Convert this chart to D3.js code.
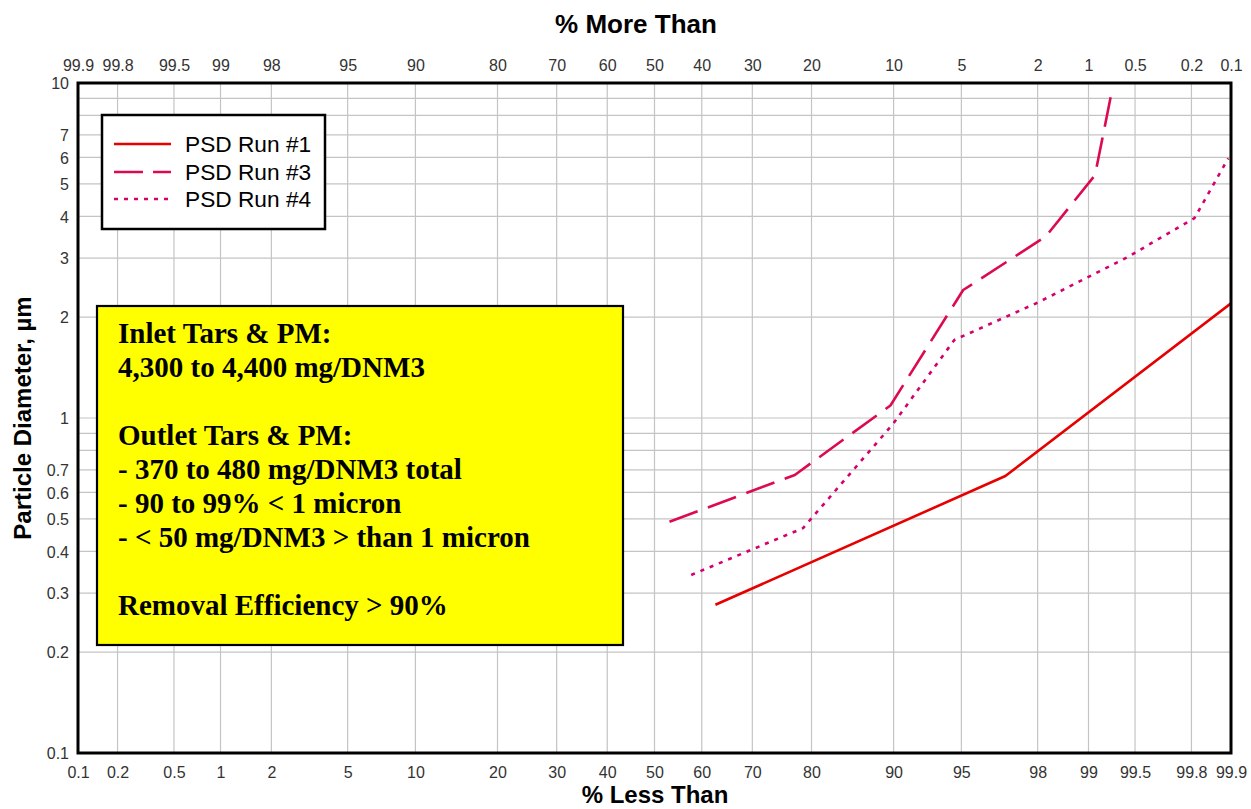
<!DOCTYPE html>
<html>
<head>
<meta charset="utf-8">
<script src="https://cdnjs.cloudflare.com/ajax/libs/d3/7.8.5/d3.min.js"></script>
<style>
html,body{margin:0;padding:0;background:#fff;}
svg{display:block;}
</style>
</head>
<body>
<svg id="chart" width="1251" height="809"></svg>
<script>
// ---------- data ----------
const pctTicks = [0.1, 0.2, 0.5, 1, 2, 5, 10, 20, 30, 40, 50, 60, 70, 80, 90, 95, 98, 99, 99.5, 99.8, 99.9];
const bottomLabels = ["0.1","0.2","0.5","1","2","5","10","20","30","40","50","60","70","80","90","95","98","99","99.5","99.8","99.9"];
const topLabels = ["99.9","99.8","99.5","99","98","95","90","80","70","60","50","40","30","20","10","5","2","1","0.5","0.2","0.1"];
const yLabelValues = [0.1, 0.2, 0.3, 0.4, 0.5, 0.6, 0.7, 1, 2, 3, 4, 5, 6, 7, 10];
const yLabels = ["0.1","0.2","0.3","0.4","0.5","0.6","0.7","1","2","3","4","5","6","7","10"];

const run1Pct = [62.8, 97.0, 99.9];
const run1Dia = [0.277, 0.671, 2.2];
const run3Pct = [53.2, 77.4, 89.7, 95.1, 98.2, 99.09, 99.29];
const run3Dia = [0.49, 0.676, 1.09, 2.41, 3.48, 5.31, 9.5];
const run4Pct = [57.8, 78.7, 89.95, 94.6, 98.0, 99.43, 99.81, 99.895];
const run4Dia = [0.34, 0.469, 0.96, 1.71, 2.21, 3.01, 3.95, 5.96];

const seriesNames = ["PSD Run #1", "PSD Run #3", "PSD Run #4"];
const seriesColors = ["#e60000", "#dc0a50", "#d4006e"];
const seriesDash = [null, "30,11", "4,6"];

const notes = [
  "Inlet Tars & PM:",
  "4,300 to 4,400 mg/DNM3",
  "",
  "Outlet Tars & PM:",
  "- 370 to 480 mg/DNM3 total",
  "- 90 to 99% < 1 micron",
  "- < 50 mg/DNM3 > than 1 micron",
  "",
  "Removal Efficiency > 90%"
];

// ---------- helpers ----------
function probit(p) {
  // Acklam's inverse normal CDF
  const a = [-3.969683028665376e+01, 2.209460984245205e+02, -2.759285104469687e+02, 1.383577518672690e+02, -3.066479806614716e+01, 2.506628277459239e+00];
  const b = [-5.447609879822406e+01, 1.615858368580409e+02, -1.556989798598866e+02, 6.680131188771972e+01, -1.328068155288572e+01];
  const c = [-7.784894002430293e-03, -3.223964580411365e-01, -2.400758277161838e+00, -2.549732539343734e+00, 4.374664141464968e+00, 2.938163982698783e+00];
  const d = [7.784695709041462e-03, 3.224671290700398e-01, 2.445134137142996e+00, 3.754408661907416e+00];
  const pl = 0.02425, ph = 1 - pl;
  let q, r;
  if (p < pl) {
    q = Math.sqrt(-2 * Math.log(p));
    return (((((c[0]*q+c[1])*q+c[2])*q+c[3])*q+c[4])*q+c[5]) / ((((d[0]*q+d[1])*q+d[2])*q+d[3])*q+1);
  } else if (p <= ph) {
    q = p - 0.5; r = q*q;
    return (((((a[0]*r+a[1])*r+a[2])*r+a[3])*r+a[4])*r+a[5])*q / (((((b[0]*r+b[1])*r+b[2])*r+b[3])*r+b[4])*r+1);
  } else {
    q = Math.sqrt(-2 * Math.log(1 - p));
    return -(((((c[0]*q+c[1])*q+c[2])*q+c[3])*q+c[4])*q+c[5]) / ((((d[0]*q+d[1])*q+d[2])*q+d[3])*q+1);
  }
}

// ---------- layout ----------
const L = 78, R = 1231, T = 83, B = 753;
const svg = d3.select("#chart");

const xz = d3.scaleLinear().domain([probit(0.001), probit(0.999)]).range([L, R]);
const x = p => xz(probit(p / 100));
const y = d3.scaleLog().domain([0.1, 10]).range([B, T]);

// ---------- grid ----------
const grid = svg.append("g");
const yGrid = [];
[0.1, 1].forEach(dec => { for (let k = 1; k <= 9; k++) yGrid.push(+(k * dec).toFixed(2)); });
yGrid.push(10);
grid.selectAll("line.h").data(yGrid).enter().append("line")
  .attr("x1", L).attr("x2", R)
  .attr("y1", d => y(d)).attr("y2", d => y(d))
  .attr("stroke", "#c4c4c4").attr("stroke-width", 1.2);
grid.selectAll("line.v").data(pctTicks).enter().append("line")
  .attr("x1", d => x(d)).attr("x2", d => x(d))
  .attr("y1", T).attr("y2", B)
  .attr("stroke", "#c4c4c4").attr("stroke-width", 1.2);

// ---------- axes (labels only) ----------
const tickFont = "'Liberation Sans', Arial, sans-serif";
const zTicks = pctTicks.map(p => probit(p / 100));

const bottomAxis = d3.axisBottom(xz).tickValues(zTicks).tickSize(0).tickPadding(0)
  .tickFormat((d, i) => bottomLabels[i]);
const gB = svg.append("g").attr("transform", `translate(0,${B + 14})`).call(bottomAxis);
const topAxis = d3.axisTop(xz).tickValues(zTicks).tickSize(0).tickPadding(0)
  .tickFormat((d, i) => topLabels[i]);
const gT = svg.append("g").attr("transform", `translate(0,${T - 12})`).call(topAxis);
const leftAxis = d3.axisLeft(y).tickValues(yLabelValues).tickSize(0).tickPadding(0)
  .tickFormat((d, i) => yLabels[i]);
const gL = svg.append("g").attr("transform", `translate(${L - 9},0)`).call(leftAxis);

[gB, gT, gL].forEach(g => {
  g.select(".domain").remove();
  g.selectAll("text").attr("font-family", tickFont).attr("font-size", 16).attr("fill", "#333");
});
gB.selectAll("text").attr("dy", "0.71em");
gT.selectAll("text").attr("dy", "0");
gL.selectAll("text").attr("dy", "0.36em");

// ---------- series ----------
const line = d3.line().x(d => x(d[0])).y(d => y(d[1]));
const series = [
  d3.zip(run1Pct, run1Dia),
  d3.zip(run3Pct, run3Dia),
  d3.zip(run4Pct, run4Dia)
];
svg.append("clipPath").attr("id", "plotclip").append("rect")
  .attr("x", L).attr("y", T).attr("width", R - L).attr("height", B - T);
series.forEach((s, i) => {
  svg.append("path").datum(s)
    .attr("d", line)
    .attr("fill", "none")
    .attr("stroke", seriesColors[i])
    .attr("stroke-width", 2.6)
    .attr("stroke-dasharray", seriesDash[i])
    .attr("stroke-linejoin", "round")
    .attr("clip-path", "url(#plotclip)");
});

// ---------- plot border ----------
svg.append("rect").attr("x", L).attr("y", T).attr("width", R - L).attr("height", B - T)
  .attr("fill", "none").attr("stroke", "#000").attr("stroke-width", 3);

// ---------- titles ----------
const titleFont = "'Liberation Sans', Arial, sans-serif";
svg.append("text").attr("x", 636).attr("y", 33).attr("text-anchor", "middle")
  .attr("font-family", titleFont).attr("font-weight", "bold").attr("font-size", 26)
  .text("% More Than");
svg.append("text").attr("x", 655).attr("y", 803).attr("text-anchor", "middle")
  .attr("font-family", titleFont).attr("font-weight", "bold").attr("font-size", 24)
  .text("% Less Than");
svg.append("text").attr("transform", "translate(31,418) rotate(-90)").attr("text-anchor", "middle")
  .attr("font-family", titleFont).attr("font-weight", "bold").attr("font-size", 24)
  .text("Particle Diameter, µm");

// ---------- legend ----------
const lg = svg.append("g");
lg.append("rect").attr("x", 102).attr("y", 115).attr("width", 223).attr("height", 114)
  .attr("fill", "#fff").attr("stroke", "#000").attr("stroke-width", 2.5);
const rowY = [144, 172, 199];
seriesNames.forEach((n, i) => {
  lg.append("line").attr("x1", 114).attr("x2", 171).attr("y1", rowY[i]).attr("y2", rowY[i])
    .attr("stroke", seriesColors[i]).attr("stroke-width", 2.6)
    .attr("stroke-dasharray", i === 1 ? "29,10" : seriesDash[i]);
  lg.append("text").attr("x", 185).attr("y", rowY[i] + 8)
    .attr("font-family", titleFont).attr("font-size", 22.7).attr("fill", "#000").text(n);
});

// ---------- annotation box ----------
const nb = svg.append("g");
nb.append("rect").attr("x", 97).attr("y", 306).attr("width", 526).attr("height", 339)
  .attr("fill", "#ffff00").attr("stroke", "#000").attr("stroke-width", 2.2);
nb.selectAll("text").data(notes).enter().append("text")
  .attr("x", 118).attr("y", (d, i) => 343 + 34 * i)
  .attr("font-family", "'Liberation Serif', 'Times New Roman', serif")
  .attr("font-weight", "bold").attr("font-size", 29).attr("fill", "#000")
  .text(d => d);
</script>
</body>
</html>
